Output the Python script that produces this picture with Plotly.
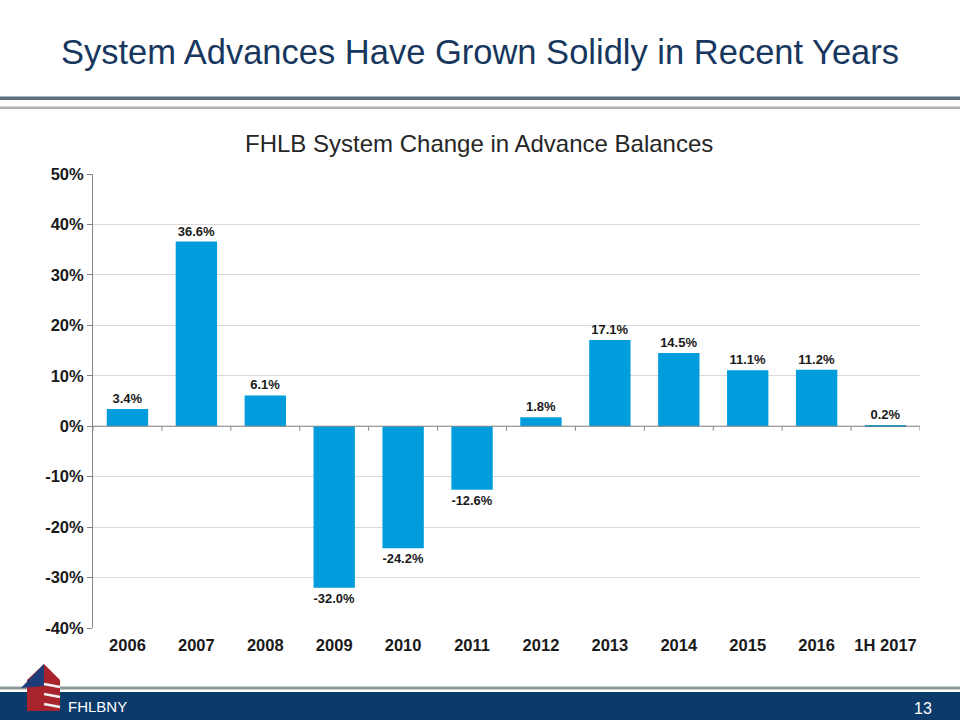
import plotly.graph_objects as go

categories = ["2006", "2007", "2008", "2009", "2010", "2011", "2012", "2013", "2014", "2015", "2016", "1H 2017"]
changes = [3.4, 36.6, 6.1, -32.0, -24.2, -12.6, 1.8, 17.1, 14.5, 11.1, 11.2, 0.2]
y_ticks = [50, 40, 30, 20, 10, 0, -10, -20, -30, -40]
y_tick_labels = [f"{v}%" for v in y_ticks]
labels = [f"{v:.1f}%" for v in changes]

W, H = 960, 720
L, R, T, B = 93, 920, 174, 628
pw, ph = R - L, B - T


def px(x):
    return (x - L) / pw


def py(y):
    return (B - y) / ph


fig = go.Figure()
fig.add_trace(go.Bar(
    x=categories, y=changes, text=labels, textposition="outside",
    textfont=dict(family="Arial, Liberation Sans", size=13, color="#1a1a1a", weight="bold"),
    marker=dict(color="#009DDC", line=dict(width=0)),
    cliponaxis=False, width=0.6,
))

shapes = []
# header lines
shapes.append(dict(type="rect", xref="paper", yref="paper", x0=px(0), x1=px(W), y0=py(100), y1=py(96.5),
                   fillcolor="#5E707E", line=dict(width=0), layer="above"))
shapes.append(dict(type="rect", xref="paper", yref="paper", x0=px(0), x1=px(W), y0=py(109), y1=py(106.5),
                   fillcolor="#AEB3B5", line=dict(width=0), layer="above"))
# footer lines and band
shapes.append(dict(type="rect", xref="paper", yref="paper", x0=px(0), x1=px(W), y0=py(689.5), y1=py(686.5),
                   fillcolor="#8E9A9E", line=dict(width=0), layer="above"))
shapes.append(dict(type="rect", xref="paper", yref="paper", x0=px(0), x1=px(W), y0=py(720), y1=py(692),
                   fillcolor="#0B3A6B", line=dict(width=0), layer="above"))
# simple house logo
shapes.append(dict(type="path", xref="paper", yref="paper",
                   path=f"M {px(27)},{py(711)} L {px(27)},{py(680)} L {px(44)},{py(664)} L {px(60)},{py(680)} "
                        f"L {px(60)},{py(711)} Z",
                   fillcolor="#A8232B", line=dict(width=0), layer="above"))
shapes.append(dict(type="path", xref="paper", yref="paper",
                   path=f"M {px(21)},{py(688)} L {px(44)},{py(664)} L {px(44)},{py(686)} Z",
                   fillcolor="#1E3C78", line=dict(width=0), layer="above"))
for yy in (684, 694, 704):
    shapes.append(dict(type="line", xref="paper", yref="paper", x0=px(44), x1=px(60), y0=py(yy), y1=py(yy + 3),
                       line=dict(color="#F2F2F2", width=2.5), layer="above"))
# category separator ticks on the zero line
for i in range(len(categories) + 1):
    shapes.append(dict(type="line", xref="x", yref="y", x0=i - 0.5, x1=i - 0.5, y0=0, y1=-0.9,
                       line=dict(color="#868686", width=1)))
# zero line
shapes.append(dict(type="line", xref="paper", yref="y", x0=0, x1=1, y0=0, y1=0,
                   line=dict(color="#868686", width=1)))

annotations = [
    dict(text="System Advances Have Grown Solidly in Recent Years", xref="paper", yref="paper",
         x=px(480), y=py(52), showarrow=False, xanchor="center", yanchor="middle",
         font=dict(family="Arial, Liberation Sans", size=34.5, color="#17375E")),
    dict(text="FHLB System Change in Advance Balances", xref="paper", yref="paper",
         x=px(479), y=py(143), showarrow=False, xanchor="center", yanchor="middle",
         font=dict(family="Arial, Liberation Sans", size=24, color="#262626")),
    dict(text="FHLBNY", xref="paper", yref="paper", x=px(66), y=py(706), showarrow=False,
         xanchor="left", yanchor="middle",
         font=dict(family="Arial, Liberation Sans", size=15, color="#FFFFFF")),
    dict(text="13", xref="paper", yref="paper", x=px(934), y=py(708), showarrow=False,
         xanchor="right", yanchor="middle",
         font=dict(family="Arial, Liberation Sans", size=16, color="#FFFFFF")),
]

fig.update_layout(
    width=W, height=H,
    margin=dict(l=L, r=W - R, t=T, b=H - B, pad=0),
    paper_bgcolor="white", plot_bgcolor="white",
    showlegend=False, bargap=0.4,
    shapes=shapes, annotations=annotations,
    font=dict(family="Arial, Liberation Sans"),
    xaxis=dict(type="category", showgrid=False, showline=False, ticks="",
               tickfont=dict(size=16.5, color="#1a1a1a", weight="bold"), ticklabelstandoff=5,
               range=[-0.5, len(categories) - 0.5]),
    yaxis=dict(range=[-40, 50], tickvals=y_ticks, ticktext=y_tick_labels,
               showgrid=True, gridcolor="#D9D9D9", gridwidth=1, zeroline=False,
               showline=True, linecolor="#868686", linewidth=1, ticks="outside", ticklen=5,
               tickcolor="#868686", tickfont=dict(size=16.5, color="#1a1a1a", weight="bold")),
)

fig.write_html("out.html")
